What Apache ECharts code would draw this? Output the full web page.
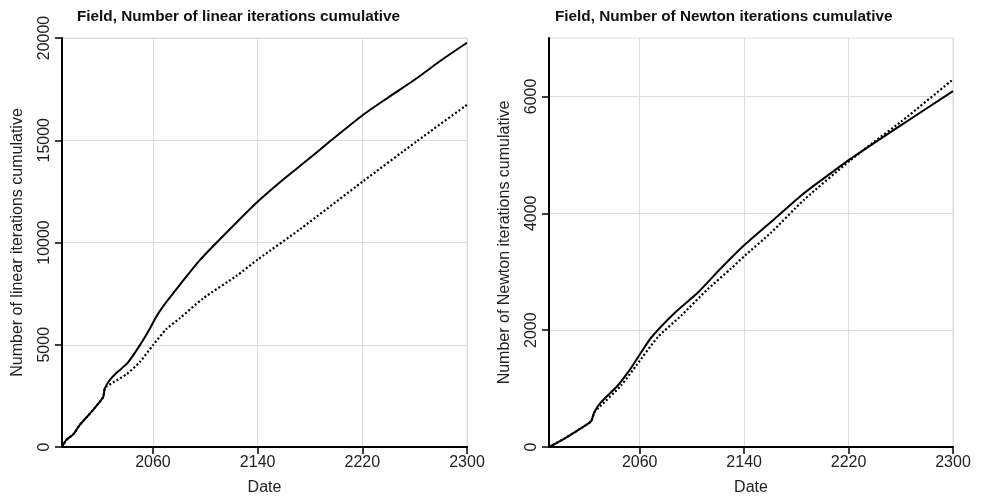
<!DOCTYPE html>
<html>
<head>
<meta charset="utf-8">
<script src="https://cdn.jsdelivr.net/npm/echarts@6/dist/echarts.min.js"></script>
<style>
html,body{margin:0;padding:0;background:#fff;}
#chart{width:984px;height:501px;}
</style>
</head>
<body>
<div id="chart"></div>
<script>
// ---- data ----
const titles = ['Field, Number of linear iterations cumulative', 'Field, Number of Newton iterations cumulative'];
const yNames = ['Number of linear iterations cumulative', 'Number of Newton iterations cumulative'];
const xName = 'Date';
const xTicks = [2060, 2140, 2220, 2300];
const yTicksLinear = [0, 5000, 10000, 15000, 20000];
const yTicksNewton = [0, 2000, 4000, 6000];

const linearSolidYears  = [1990.5, 1993.8, 1999.1, 2004, 2014.1, 2022, 2023.1, 2026.7, 2032, 2040.5, 2049.8, 2057.7, 2062.8, 2068, 2073, 2082, 2095, 2108.7, 2125, 2140.5, 2159.6, 2178, 2195.3, 2220.7, 2240, 2261.6, 2280, 2300];
const linearSolidValues = [0, 350, 618, 1071, 1801, 2442, 2847, 3252, 3620, 4100, 4957, 5800, 6400, 6900, 7320, 8050, 9080, 10001, 11050, 12026, 13082, 14030, 14948, 16248, 17100, 18034, 18900, 19768];

const linearDotYears  = [1990.5, 1993.8, 1999.1, 2004, 2014.1, 2022, 2023.1, 2024.6, 2032.3, 2039.9, 2050, 2060, 2070.4, 2080.6, 2098, 2124, 2140.5, 2172.4, 2220.7, 2261.6, 2300];
const linearDotValues = [0, 350, 618, 1071, 1801, 2442, 2847, 2960, 3262, 3560, 4158, 4980, 5779, 6300, 7250, 8375, 9188, 10649, 13000, 14948, 16735];

const newtonSolidYears  = [1990.5, 2002.3, 2012.5, 2022.7, 2025.2, 2030.4, 2043.2, 2053.3, 2059.7, 2068.7, 2086.5, 2104.4, 2122.2, 2140.8, 2160.5, 2183.5, 2196.3, 2221.2, 2260, 2300];
const newtonSolidValues = [0, 145, 286, 439, 599, 769, 1052, 1350, 1570, 1870, 2290, 2640, 3060, 3470, 3850, 4300, 4520, 4928, 5506, 6090];

const newtonDotYears  = [1990.5, 2002.3, 2012.5, 2022.7, 2025.2, 2027.8, 2045.7, 2057.5, 2073.8, 2091.6, 2112.1, 2129.9, 2140.8, 2160.5, 2186, 2221.2, 2240, 2260, 2300];
const newtonDotValues = [0, 145, 286, 439, 590, 655, 1052, 1400, 1880, 2246, 2701, 3054, 3280, 3667, 4234, 4904, 5230, 5563, 6291];

// ---- chart ----
const pairs = (xs, ys) => xs.map((x, i) => [x, ys[i]]);
const FONT = 'Liberation Sans, Arial, sans-serif';
const INK = '#000';
const GRIDC = '#dcdcdc';
const plain = v => String(Math.round(v));

function xAxis(gridIndex) {
  return {
    type: 'value', gridIndex, min: 1990.5, max: 2300,
    name: xName, nameLocation: 'middle', nameGap: 33,
    nameTextStyle: { fontFamily: FONT, fontSize: 16, color: '#222' },
    axisLine: { show: true, onZero: false, lineStyle: { color: INK, width: 2 } },
    axisTick: { show: true, length: 7, customValues: xTicks, lineStyle: { color: INK, width: 1.5 } },
    axisLabel: { customValues: xTicks, formatter: plain, margin: 8, fontFamily: FONT, fontSize: 16, color: '#222' },
    splitLine: { show: true, lineStyle: { color: GRIDC, width: 1 } }
  };
}
function yAxis(gridIndex, max, interval, ticks, name) {
  return {
    type: 'value', gridIndex, min: 0, max, interval,
    name, nameLocation: 'middle', nameGap: 36,
    nameTextStyle: { fontFamily: FONT, fontSize: 16, color: '#222' },
    axisLine: { show: true, onZero: false, lineStyle: { color: INK, width: 2 } },
    axisTick: { show: true, length: 7, customValues: ticks, lineStyle: { color: INK, width: 1.5 } },
    axisLabel: { customValues: ticks, formatter: plain, rotate: 90, margin: 9, fontFamily: FONT, fontSize: 16, color: '#222' },
    splitLine: { show: true, lineStyle: { color: GRIDC, width: 1 } }
  };
}
function line(name, xi, data, dotted) {
  return {
    name, type: 'line', xAxisIndex: xi, yAxisIndex: xi, data,
    showSymbol: false, symbol: 'none', silent: true,
    smooth: 0.2,
    lineStyle: { color: INK, width: dotted ? 2.2 : 2, type: dotted ? [2, 2.2] : 'solid' },
    z: dotted ? 3 : 4
  };
}

const option = {
  animation: false,
  backgroundColor: '#fff',
  title: [
    { text: titles[0], left: 72, top: 4, textStyle: { fontFamily: FONT, fontSize: 15.3, fontWeight: 'bold', color: '#111' } },
    { text: titles[1], left: 550, top: 4, textStyle: { fontFamily: FONT, fontSize: 15.3, fontWeight: 'bold', color: '#111' } }
  ],
  grid: [
    { left: 62, right: 517, top: 38, bottom: 53, show: true, borderColor: GRIDC, borderWidth: 1 },
    { left: 549, right: 31, top: 38, bottom: 53, show: true, borderColor: GRIDC, borderWidth: 1 }
  ],
  xAxis: [xAxis(0), xAxis(1)],
  yAxis: [
    yAxis(0, 20000, 5000, yTicksLinear, yNames[0]),
    yAxis(1, 7000, 2000, yTicksNewton, yNames[1])
  ],
  series: [
    line('Linear A', 0, pairs(linearSolidYears, linearSolidValues), false),
    line('Linear B', 0, pairs(linearDotYears, linearDotValues), true),
    line('Newton A', 1, pairs(newtonSolidYears, newtonSolidValues), false),
    line('Newton B', 1, pairs(newtonDotYears, newtonDotValues), true)
  ]
};
echarts.init(document.getElementById('chart'), null, { renderer: 'canvas' }).setOption(option);
</script>
</body>
</html>
